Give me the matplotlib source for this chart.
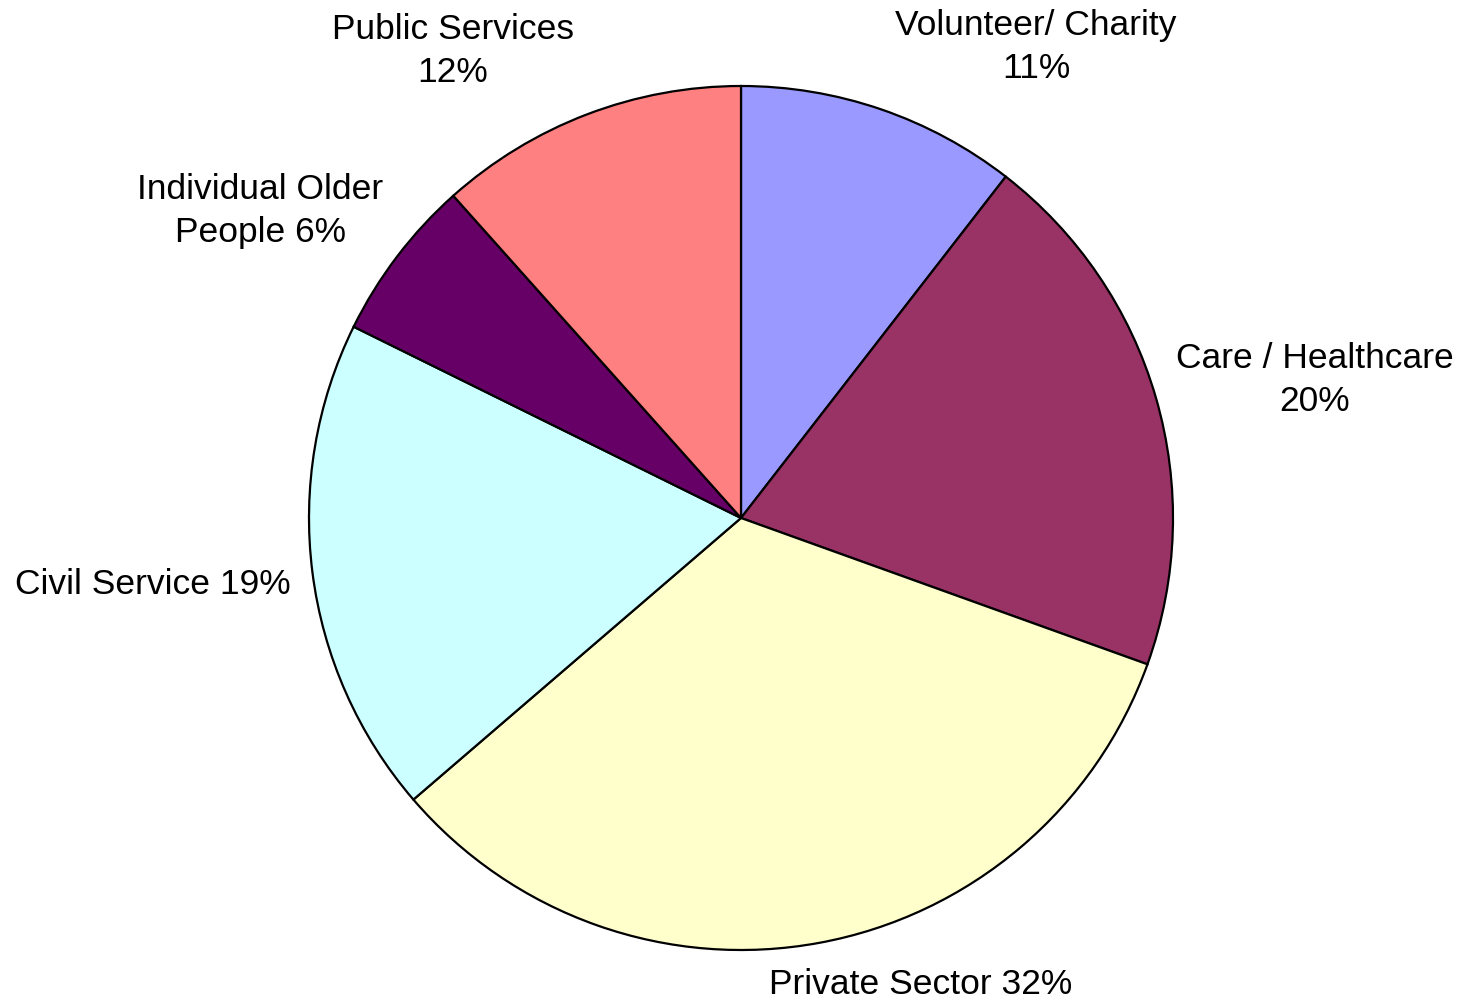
import matplotlib
matplotlib.use("Agg")
import matplotlib.pyplot as plt
import numpy as np

# slice shares (clockwise from 12 o'clock)
sectors = ["Volunteer/ Charity", "Care / Healthcare", "Private Sector",
           "Civil Service", "Individual Older People", "Public Services"]
shares = [10.5, 20.0, 33.2, 18.6, 6.1, 11.6]
label_texts = ["Volunteer/ Charity\n11%", "Care / Healthcare\n20%", "Private Sector 32%",
               "Civil Service 19%", "Individual Older\nPeople 6%", "Public Services\n12%"]
colors = ["#9999FF", "#993366", "#FFFFCC", "#CCFFFF", "#660066", "#FF8080"]

# label anchor points in pixel coordinates of the 1462x1004 canvas
label_xy = [(1036, 47), (1315, 380), (921, 985), (153, 585), (260, 211), (453, 51)]

W, H = 1462, 1004
fig = plt.figure(figsize=(W / 100, H / 100), dpi=100)
ax = fig.add_axes([0, 0, 1, 1])

ax.pie(shares, colors=colors, startangle=90, counterclock=False,
       center=(741, H - 519), radius=432, frame=True,
       wedgeprops=dict(edgecolor="black", linewidth=1.6))
ax.set_xlim(0, W)
ax.set_ylim(0, H)
ax.set_aspect("equal")
ax.axis("off")

for txt, (x, y) in zip(label_texts, label_xy):
    ax.text(x, H - y, txt, ha="center", va="center", fontsize=25.5,
            family="Liberation Sans", linespacing=1.4)

fig.savefig("out.png", dpi=100)
